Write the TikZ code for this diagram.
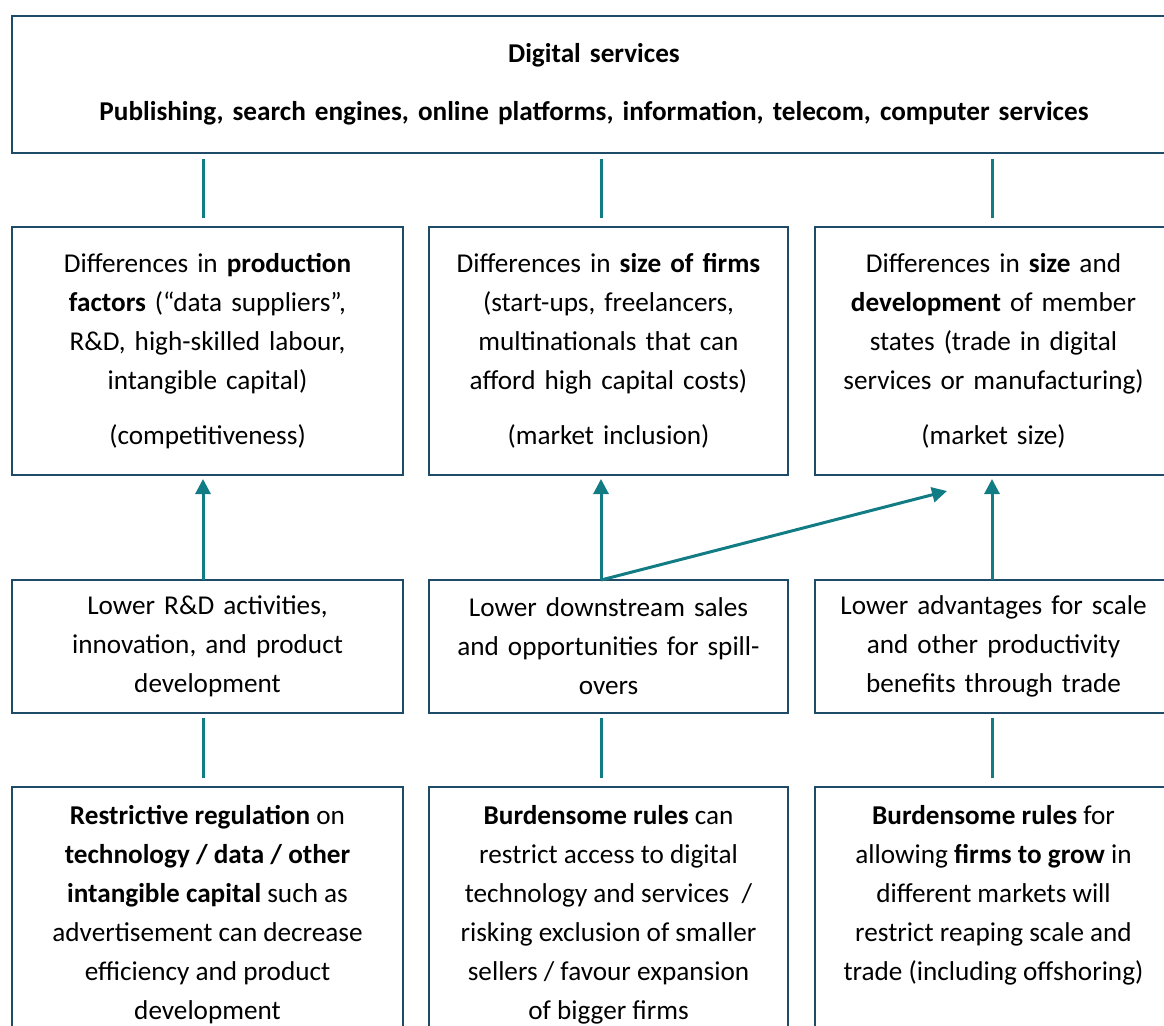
\documentclass[tikz,border=0pt]{standalone}
\usepackage{fontspec}
\setmainfont{Carlito}
\usetikzlibrary{arrows.meta}
\usetikzlibrary{positioning}
\definecolor{box_blue}{RGB}{30,76,104}
\definecolor{line_teal}{RGB}{18,124,133}
\tikzstyle{base_box} = [
    rectangle, 
    draw=box_blue, 
    line width=2pt, 
    align=center, 
    inner sep=0pt, 
    outer sep=0pt, 
    font=\fontsize{27.2}{39}\selectfont
]
\tikzstyle{top_box} = [
    base_box, 
    minimum width=1164pt, 
    minimum height=137pt, 
    text width=1140pt
]
\tikzstyle{diff_box} = [
    base_box, 
    minimum height=248pt
]
\tikzstyle{effect_box} = [
    base_box, 
    minimum height=133pt
]
\tikzstyle{rule_box} = [
    base_box, 
    inner ysep=18pt % text sits at the top, box runs off the page
]
\tikzstyle{teal_line} = [
    draw=line_teal, 
    line width=3pt
]
\tikzstyle{teal_arrow} = [
    teal_line, 
    -{Triangle[width=15pt, length=15pt]}
]

\begin{document}
\begin{tikzpicture}[
    x=1pt, 
    y=-1pt
]
\useasboundingbox (0,0) rectangle (1164,1025);
\clip (0,0) rectangle (1164,1025);

% top
\node [top_box] (services) at (594,84.5) {\textbf{Digital services}\\[19pt]
    \textbf{Publishing, search engines, online platforms, information, telecom, computer services}};

% differences
\node [diff_box, minimum width=391pt, text width=371pt] (factors) at (207.5,351)
    {Differences in \textbf{production}\\ \textbf{factors} (“data suppliers”,\\ R\&D, high-skilled labour,\\ intangible capital)\\[16pt] (competitiveness)};
\node [diff_box, minimum width=359pt, text width=339pt] (firms) at (608.5,351)
    {Differences in \textbf{size of firms}\\ (start-ups, freelancers,\\ multinationals that can\\ afford high capital costs)\\[16pt] (market inclusion)};
\node [diff_box, minimum width=357pt, text width=337pt] (states) at (993.5,351)
    {Differences in \textbf{size} and\\ \textbf{development} of member\\ states (trade in digital\\ services or manufacturing)\\[16pt] (market size)};

% effects
\node [effect_box, minimum width=391pt, text width=371pt, below=105pt of factors] (rnd)
    {Lower R\&D activities,\\ innovation, and product\\ development};
\node [effect_box, minimum width=359pt, text width=339pt, below=105pt of firms] (sales)
    {Lower downstream sales\\ and opportunities for spill-\\ overs};
\node [effect_box, minimum width=357pt, text width=337pt, below=105pt of states] (scale)
    {Lower advantages for scale\\ and other productivity\\ benefits through trade};

% rules
\node [rule_box, minimum width=391pt, below=74pt of rnd] (regulation)
    {\parbox[t][220pt][t]{371pt}{\centering \textbf{Restrictive regulation} on\\ \textbf{technology / data / other}\\ \textbf{intangible capital} such as\\ advertisement can decrease\\ efficiency and product\\ development}};
\node [rule_box, minimum width=359pt, below=74pt of sales] (burden)
    {\parbox[t][220pt][t]{339pt}{\centering \textbf{Burdensome rules} can\\ restrict access to digital\\ technology and services~~/\\ risking exclusion of smaller\\ sellers / favour expansion\\ of bigger firms}};
\node [rule_box, minimum width=357pt, below=74pt of scale] (growth)
    {\parbox[t][220pt][t]{337pt}{\centering \textbf{Burdensome rules} for\\ allowing \textbf{firms to grow} in\\ different markets will\\ restrict reaping scale and\\ trade (including offshoring)}};

% top links
\draw [teal_line] ([xshift=-4.5pt, yshift=9pt]factors.north) -- ([xshift=-4.5pt, yshift=68pt]factors.north);
\draw [teal_line] ([xshift=-7.5pt, yshift=9pt]firms.north) -- ([xshift=-7.5pt, yshift=68pt]firms.north);
\draw [teal_line] ([xshift=-1.5pt, yshift=9pt]states.north) -- ([xshift=-1.5pt, yshift=68pt]states.north);

% arrows up
\draw [teal_arrow] ([xshift=-4.5pt]rnd.north) -- ([xshift=-4.5pt, yshift=-4pt]factors.south);
\draw [teal_arrow] ([xshift=-7.5pt]sales.north) -- ([xshift=-7.5pt, yshift=-4pt]firms.south);
\draw [teal_arrow] ([xshift=-1.5pt]scale.north) -- ([xshift=-1.5pt, yshift=-4pt]states.south);
\draw [teal_arrow] ([xshift=-7.5pt]sales.north) -- ([xshift=-46.5pt, yshift=-16pt]states.south);

% bottom links
\draw [teal_line] ([xshift=-4.5pt, yshift=9pt]regulation.north) -- ([xshift=-4.5pt, yshift=-5pt]rnd.south);
\draw [teal_line] ([xshift=-7.5pt, yshift=9pt]burden.north) -- ([xshift=-7.5pt, yshift=-5pt]sales.south);
\draw [teal_line] ([xshift=-1.5pt, yshift=9pt]growth.north) -- ([xshift=-1.5pt, yshift=-5pt]scale.south);
\end{tikzpicture}
\end{document}
